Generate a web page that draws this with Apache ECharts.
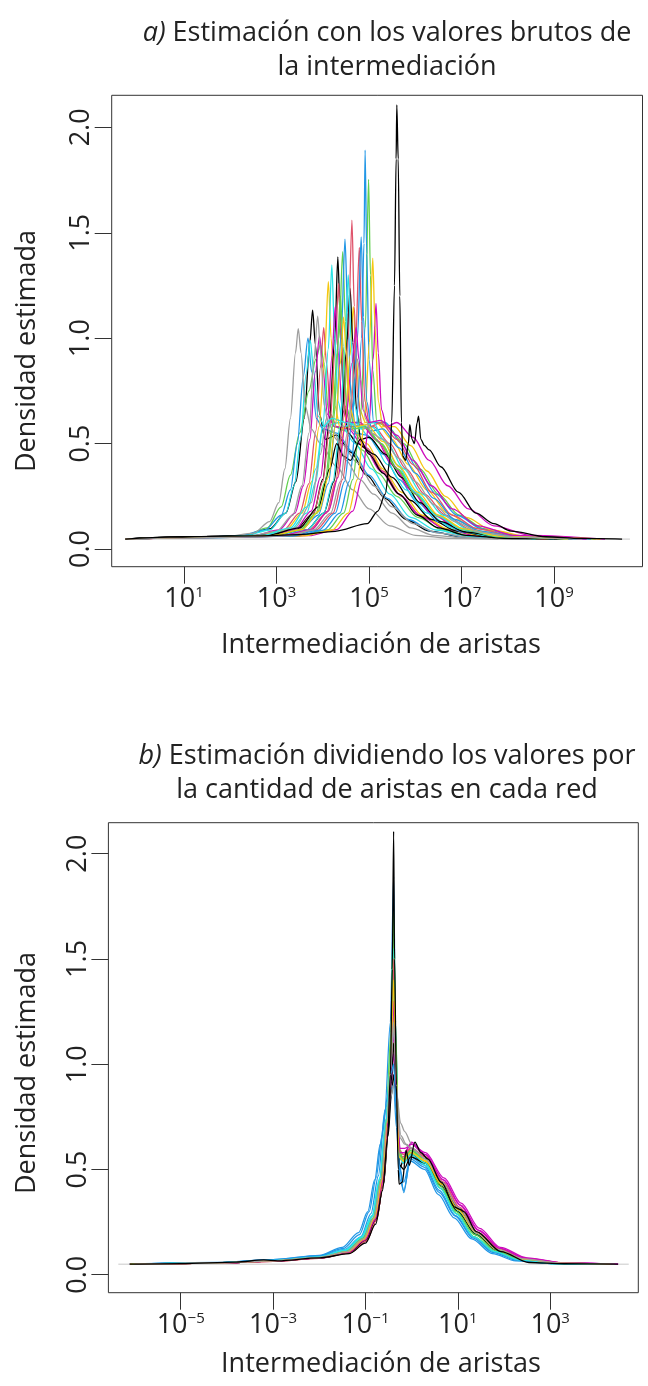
<!DOCTYPE html>
<html>
<head>
<meta charset="utf-8">
<script src="https://cdn.jsdelivr.net/npm/echarts@6/dist/echarts.min.js"></script>
<style>
  html, body { margin: 0; padding: 0; background: #fff; }
  #chart { width: 648px; height: 1386px; }
</style>
</head>
<body>
<div id="chart"></div>
<script>
// x de cada punto en log10 (eje logaritmico), y = densidad estimada
const ticksBrutos = [1, 3, 5, 7, 9];
const ticksNorm = [-5, -3, -1, 1, 3];
const ticksDens = [0, 0.5, 1, 1.5, 2];

const lineaBaseA = [[-0.27, 0.047], [10.64, 0.047]];
const lineaBaseB = [[-6.35, 0.05], [4.7, 0.05]];

// a) valores brutos de la intermediacion
const curvasBrutas = [
  [[-0.27,0.047],[0.9,0.056],[1.6,0.06],[2.3,0.065],[2.85,0.095],[3.2,0.17],[3.42,0.32],[3.6,0.62],[3.72,0.98],[3.78,1.133],[3.84,0.97],[3.93,0.64],[4.05,0.52],[4.3,0.54],[4.6,0.46],[4.95,0.35],[5.35,0.24],[5.8,0.14],[6.3,0.085],[7.0,0.058],[8.2,0.048],[9.2,0.047]],
  [[-0.27,0.047],[1.4,0.055],[2.6,0.063],[3.15,0.09],[3.5,0.17],[3.7,0.31],[3.85,0.56],[3.95,0.86],[4.02,1.05],[4.08,0.88],[4.17,0.64],[4.3,0.58],[4.6,0.57],[4.95,0.48],[5.3,0.37],[5.7,0.25],[6.15,0.15],[6.7,0.09],[7.5,0.058],[8.9,0.047]],
  [[-0.27,0.047],[1.4,0.055],[2.3,0.063],[2.8,0.1],[3.1,0.2],[3.3,0.35],[3.5,0.55],[3.7,0.75],[3.85,0.9],[3.95,0.97],[4.03,0.88],[4.12,0.66],[4.25,0.58],[4.5,0.56],[4.85,0.47],[5.2,0.36],[5.6,0.25],[6.05,0.15],[6.6,0.09],[7.3,0.058],[8.7,0.047]],
  [[-0.27,0.047],[1.2,0.055],[2.2,0.062],[2.75,0.09],[3.1,0.16],[3.3,0.28],[3.45,0.5],[3.58,0.82],[3.68,1.0],[3.76,0.84],[3.86,0.62],[4.0,0.57],[4.3,0.55],[4.65,0.46],[5.0,0.35],[5.4,0.24],[5.85,0.14],[6.4,0.08],[7.1,0.056],[8.4,0.047]],
  [[-0.27,0.047],[1.3,0.054],[2.3,0.062],[2.85,0.09],[3.2,0.17],[3.38,0.3],[3.52,0.52],[3.64,0.83],[3.73,0.99],[3.8,0.85],[3.9,0.63],[4.05,0.58],[4.35,0.6],[4.7,0.5],[5.05,0.38],[5.45,0.26],[5.9,0.15],[6.45,0.09],[7.2,0.058],[8.6,0.047]],
  [[-0.27,0.047],[1.5,0.055],[2.5,0.063],[3.05,0.09],[3.4,0.17],[3.58,0.3],[3.72,0.52],[3.84,0.84],[3.93,1.01],[4.0,0.86],[4.1,0.64],[4.25,0.58],[4.55,0.57],[4.9,0.48],[5.25,0.37],[5.65,0.26],[6.1,0.16],[6.65,0.095],[7.4,0.06],[8.8,0.047]],
  [[-0.27,0.047],[1.4,0.054],[2.6,0.062],[3.2,0.09],[3.55,0.17],[3.76,0.32],[3.92,0.58],[4.04,0.92],[4.12,1.268],[4.18,1.0],[4.26,0.68],[4.38,0.57],[4.6,0.58],[4.95,0.5],[5.3,0.38],[5.7,0.27],[6.15,0.16],[6.7,0.095],[7.5,0.06],[8.9,0.047]],
  [[-0.27,0.047],[1.2,0.054],[1.9,0.058],[2.5,0.075],[2.85,0.13],[3.05,0.22],[3.18,0.38],[3.3,0.62],[3.41,0.93],[3.47,1.045],[3.53,0.93],[3.62,0.68],[3.75,0.57],[3.95,0.5],[4.3,0.39],[4.65,0.28],[5.0,0.19],[5.45,0.11],[6.0,0.065],[6.8,0.05],[7.8,0.047]],
  [[-0.27,0.047],[1.0,0.057],[1.8,0.06],[2.8,0.066],[3.4,0.09],[3.8,0.17],[4.0,0.33],[4.14,0.6],[4.26,1.0],[4.325,1.386],[4.38,1.08],[4.45,0.7],[4.55,0.55],[4.75,0.5],[5.1,0.45],[5.5,0.34],[5.9,0.23],[6.35,0.14],[6.9,0.085],[7.7,0.056],[9.1,0.047]],
  [[-0.27,0.047],[1.6,0.055],[2.8,0.062],[3.45,0.09],[3.8,0.17],[4.0,0.32],[4.15,0.58],[4.27,0.95],[4.34,1.26],[4.4,1.0],[4.48,0.68],[4.6,0.58],[4.85,0.59],[5.2,0.51],[5.55,0.39],[5.95,0.27],[6.4,0.16],[6.95,0.095],[7.75,0.06],[9.2,0.047]],
  [[-0.27,0.047],[1.5,0.055],[2.9,0.062],[3.5,0.09],[3.88,0.17],[4.08,0.33],[4.23,0.6],[4.35,1.0],[4.43,1.41],[4.49,1.08],[4.56,0.7],[4.68,0.57],[4.92,0.58],[5.27,0.5],[5.62,0.38],[6.02,0.26],[6.47,0.16],[7.02,0.092],[7.8,0.058],[9.3,0.047]],
  [[-0.27,0.047],[1.3,0.054],[2.9,0.061],[3.5,0.085],[3.9,0.16],[4.12,0.31],[4.28,0.6],[4.4,1.02],[4.48,1.47],[4.54,1.12],[4.61,0.72],[4.72,0.55],[4.95,0.54],[5.3,0.45],[5.65,0.33],[6.05,0.22],[6.5,0.13],[7.05,0.08],[7.9,0.054],[9.3,0.047]],
  [[-0.27,0.047],[1.5,0.055],[2.7,0.062],[3.3,0.09],[3.65,0.17],[3.85,0.32],[4.0,0.58],[4.12,0.95],[4.195,1.347],[4.25,1.05],[4.33,0.7],[4.45,0.58],[4.7,0.6],[5.05,0.52],[5.4,0.4],[5.8,0.28],[6.25,0.17],[6.8,0.1],[7.6,0.06],[9.0,0.047]],
  [[-0.27,0.047],[1.6,0.055],[2.8,0.063],[3.4,0.092],[3.75,0.18],[3.95,0.34],[4.1,0.6],[4.2,0.92],[4.27,1.15],[4.33,0.94],[4.42,0.66],[4.55,0.6],[4.8,0.6],[5.15,0.52],[5.5,0.4],[5.9,0.28],[6.35,0.17],[6.9,0.1],[7.7,0.062],[9.2,0.047]],
  [[-0.27,0.047],[1.6,0.055],[3.1,0.063],[3.75,0.092],[4.12,0.18],[4.32,0.34],[4.48,0.6],[4.59,0.92],[4.66,1.15],[4.72,0.93],[4.8,0.66],[4.92,0.6],[5.15,0.6],[5.5,0.52],[5.85,0.4],[6.25,0.28],[6.7,0.17],[7.25,0.1],[8.05,0.062],[9.6,0.047]],
  [[-0.27,0.047],[1.3,0.054],[2.4,0.06],[3.0,0.085],[3.35,0.16],[3.55,0.3],[3.7,0.55],[3.81,0.9],[3.89,1.105],[3.95,0.94],[4.03,0.68],[4.15,0.55],[4.4,0.5],[4.75,0.41],[5.1,0.3],[5.5,0.2],[5.95,0.12],[6.5,0.075],[7.3,0.052],[8.5,0.047]],
  [[-0.27,0.047],[1.1,0.056],[2.0,0.058],[3.0,0.065],[3.65,0.09],[4.02,0.17],[4.24,0.32],[4.4,0.58],[4.51,0.94],[4.59,1.236],[4.65,0.98],[4.73,0.66],[4.82,0.52],[5.0,0.53],[5.35,0.45],[5.7,0.34],[6.1,0.22],[6.55,0.13],[7.1,0.08],[7.9,0.055],[9.4,0.047]],
  [[-0.27,0.047],[1.7,0.055],[3.1,0.062],[3.7,0.09],[4.08,0.17],[4.28,0.32],[4.44,0.6],[4.55,1.0],[4.63,1.56],[4.68,1.15],[4.75,0.72],[4.86,0.57],[5.1,0.58],[5.45,0.5],[5.8,0.38],[6.2,0.26],[6.65,0.16],[7.2,0.092],[8.0,0.058],[9.5,0.047]],
  [[-0.27,0.047],[1.6,0.055],[3.5,0.062],[4.1,0.09],[4.45,0.17],[4.65,0.33],[4.81,0.62],[4.92,1.05],[4.99,1.753],[5.03,1.3],[5.08,0.85],[5.17,0.6],[5.4,0.58],[5.75,0.5],[6.1,0.38],[6.5,0.26],[6.95,0.16],[7.5,0.095],[8.3,0.06],[9.9,0.047]],
  [[-0.27,0.047],[1.5,0.054],[3.4,0.061],[4.0,0.088],[4.37,0.17],[4.57,0.32],[4.73,0.6],[4.84,1.0],[4.89,1.45],[4.915,1.892],[4.95,1.4],[5.0,0.9],[5.1,0.6],[5.35,0.6],[5.7,0.5],[6.05,0.38],[6.45,0.26],[6.9,0.16],[7.45,0.095],[8.25,0.058],[9.8,0.047]],
  [[-0.27,0.047],[1.6,0.055],[3.0,0.062],[3.65,0.09],[4.02,0.17],[4.22,0.32],[4.37,0.58],[4.48,0.95],[4.55,1.3],[4.61,1.0],[4.69,0.68],[4.8,0.57],[5.05,0.58],[5.4,0.5],[5.75,0.38],[6.15,0.26],[6.6,0.16],[7.15,0.093],[7.95,0.058],[9.5,0.047]],
  [[-0.27,0.047],[1.8,0.055],[3.7,0.063],[4.3,0.092],[4.65,0.18],[4.85,0.34],[5.0,0.6],[5.09,0.9],[5.15,1.165],[5.2,0.93],[5.27,0.66],[5.38,0.58],[5.6,0.6],[5.95,0.53],[6.3,0.42],[6.7,0.3],[7.15,0.19],[7.7,0.11],[8.5,0.065],[10.1,0.047]],
  [[-0.27,0.047],[1.7,0.055],[3.6,0.062],[4.2,0.09],[4.55,0.17],[4.75,0.33],[4.9,0.6],[5.01,0.98],[5.08,1.379],[5.13,1.05],[5.2,0.7],[5.3,0.58],[5.55,0.58],[5.9,0.49],[6.25,0.37],[6.65,0.25],[7.1,0.15],[7.65,0.09],[8.45,0.057],[10.0,0.047]],
  [[-0.27,0.047],[1.5,0.054],[2.8,0.063],[3.4,0.1],[3.75,0.22],[3.95,0.45],[4.08,0.62],[4.25,0.55],[4.5,0.42],[4.8,0.33],[5.1,0.26],[5.5,0.17],[5.9,0.1],[6.4,0.065],[7.2,0.05],[8.4,0.047]],
  [[-0.27,0.047],[1.2,0.058],[2.8,0.065],[3.5,0.1],[3.9,0.2],[4.15,0.38],[4.3,0.5],[4.45,0.44],[4.6,0.42],[4.81,0.52],[5.0,0.45],[5.3,0.36],[5.65,0.26],[6.05,0.16],[6.5,0.1],[7.1,0.065],[8.0,0.05],[9.2,0.047]],
  [[-0.27,0.047],[1.7,0.055],[3.2,0.062],[3.85,0.09],[4.22,0.17],[4.43,0.33],[4.59,0.6],[4.71,0.98],[4.79,1.43],[4.84,1.08],[4.91,0.7],[5.02,0.58],[5.25,0.6],[5.6,0.52],[5.95,0.4],[6.35,0.27],[6.8,0.16],[7.35,0.095],[8.15,0.06],[9.7,0.047]],
  [[-0.27,0.047],[1.5,0.055],[2.9,0.062],[3.5,0.09],[3.85,0.17],[4.05,0.32],[4.2,0.58],[4.31,0.93],[4.38,1.2],[4.44,0.96],[4.52,0.67],[4.64,0.57],[4.9,0.58],[5.25,0.5],[5.6,0.38],[6.0,0.26],[6.45,0.16],[7.0,0.093],[7.8,0.058],[9.3,0.047]],
  [[-0.27,0.047],[1.4,0.054],[3.3,0.061],[3.9,0.088],[4.27,0.17],[4.47,0.32],[4.63,0.6],[4.75,1.0],[4.83,1.48],[4.88,1.1],[4.95,0.7],[5.06,0.56],[5.3,0.57],[5.65,0.48],[6.0,0.36],[6.4,0.24],[6.85,0.14],[7.4,0.085],[8.2,0.056],[9.7,0.047]],
  [[-0.27,0.047],[1.5,0.055],[2.7,0.065],[3.3,0.1],[3.65,0.2],[3.85,0.38],[4.0,0.58],[4.2,0.62],[4.5,0.6],[4.8,0.58],[5.1,0.6],[5.3,0.52],[5.6,0.4],[6.0,0.27],[6.45,0.16],[7.0,0.095],[7.8,0.06],[9.3,0.047]],
  [[-0.27,0.047],[1.6,0.055],[3.1,0.063],[3.75,0.092],[4.12,0.18],[4.33,0.34],[4.48,0.58],[4.63,0.88],[4.72,1.05],[4.78,0.9],[4.87,0.66],[5.0,0.6],[5.25,0.61],[5.6,0.54],[5.95,0.42],[6.35,0.3],[6.8,0.19],[7.35,0.11],[8.15,0.065],[9.7,0.047]],
  [[-0.27,0.047],[1.5,0.055],[2.9,0.063],[3.55,0.092],[3.92,0.18],[4.12,0.34],[4.27,0.58],[4.38,0.88],[4.45,1.1],[4.51,0.92],[4.6,0.66],[4.72,0.58],[4.95,0.59],[5.3,0.51],[5.65,0.39],[6.05,0.27],[6.5,0.16],[7.05,0.095],[7.85,0.06],[9.3,0.047]],
  [[-0.27,0.047],[1.6,0.054],[3.2,0.062],[3.8,0.09],[4.17,0.17],[4.38,0.32],[4.53,0.55],[4.66,0.8],[4.75,0.9],[4.82,0.8],[4.92,0.62],[5.05,0.55],[5.3,0.52],[5.65,0.43],[6.0,0.32],[6.4,0.21],[6.85,0.13],[7.4,0.08],[8.2,0.055],[9.6,0.047]],
  [[-0.27,0.047],[0.7,0.056],[1.5,0.06],[2.5,0.062],[3.5,0.068],[4.27,0.084],[4.96,0.12],[5.19,0.18],[5.35,0.26],[5.45,0.42],[5.49,0.6],[5.55,1.25],[5.585,1.85],[5.6,2.106],[5.63,1.85],[5.665,1.2],[5.7,0.6],[5.73,0.44],[5.79,0.42],[5.85,0.5],[5.88,0.59],[5.93,0.52],[5.98,0.5],[6.04,0.6],[6.07,0.63],[6.12,0.52],[6.2,0.49],[6.3,0.47],[6.55,0.39],[6.93,0.27],[7.31,0.17],[7.7,0.12],[8.07,0.085],[8.82,0.058],[9.58,0.05],[10.47,0.047]]
];

// b) valores divididos por la cantidad de aristas
const curvasNorm = [
  [[-6.1,0.05],[-4.2,0.056],[-3.0,0.068],[-2.0,0.082],[-1.38,0.11],[-1.03,0.17],[-0.8,0.27],[-0.64,0.45],[-0.53,0.72],[-0.45,1.0],[-0.39,1.39],[-0.34,0.95],[-0.27,0.5],[-0.18,0.54],[-0.02,0.58],[0.3,0.53],[0.65,0.42],[1.0,0.3],[1.4,0.19],[1.85,0.115],[2.4,0.072],[3.2,0.054],[4.4,0.05]],
  [[-6.0,0.05],[-4.2,0.055],[-3.0,0.064],[-2.0,0.079],[-1.35,0.105],[-1.0,0.16],[-0.78,0.26],[-0.62,0.44],[-0.52,0.7],[-0.45,0.98],[-0.39,1.23],[-0.34,0.9],[-0.27,0.55],[-0.18,0.56],[-0.02,0.6],[0.3,0.56],[0.67,0.44],[1.02,0.32],[1.42,0.2],[1.87,0.12],[2.42,0.075],[3.2,0.055],[4.3,0.05]],
  [[-6.05,0.05],[-4.2,0.056],[-3.0,0.066],[-2.0,0.081],[-1.4,0.11],[-1.05,0.17],[-0.82,0.27],[-0.66,0.45],[-0.54,0.72],[-0.45,1.1],[-0.39,1.65],[-0.35,1.15],[-0.28,0.6],[-0.18,0.55],[-0.02,0.59],[0.3,0.54],[0.64,0.42],[0.98,0.3],[1.38,0.19],[1.82,0.115],[2.35,0.072],[3.1,0.054],[4.3,0.05]],
  [[-6.1,0.05],[-4.2,0.057],[-3.0,0.07],[-2.0,0.088],[-1.45,0.12],[-1.1,0.18],[-0.88,0.29],[-0.72,0.47],[-0.58,0.78],[-0.46,1.2],[-0.39,1.89],[-0.35,1.2],[-0.28,0.55],[-0.17,0.39],[-0.03,0.56],[0.28,0.52],[0.6,0.4],[0.95,0.28],[1.33,0.18],[1.78,0.11],[2.3,0.07],[3.0,0.054],[4.2,0.05]],
  [[-6.0,0.05],[-4.2,0.056],[-3.0,0.067],[-2.0,0.084],[-1.42,0.115],[-1.07,0.175],[-0.84,0.28],[-0.68,0.46],[-0.55,0.74],[-0.45,1.08],[-0.39,1.55],[-0.34,1.05],[-0.27,0.56],[-0.18,0.55],[-0.02,0.6],[0.3,0.55],[0.63,0.43],[0.97,0.31],[1.36,0.2],[1.8,0.12],[2.35,0.074],[3.1,0.055],[4.3,0.05]],
  [[-6.1,0.05],[-4.2,0.055],[-3.0,0.065],[-2.0,0.08],[-1.37,0.108],[-1.02,0.165],[-0.8,0.26],[-0.64,0.44],[-0.53,0.7],[-0.45,0.95],[-0.39,1.15],[-0.33,0.85],[-0.26,0.58],[-0.15,0.58],[0.0,0.63],[0.3,0.57],[0.68,0.45],[1.05,0.33],[1.45,0.21],[1.9,0.125],[2.45,0.078],[3.3,0.056],[4.4,0.05]],
  [[-6.0,0.05],[-4.2,0.055],[-3.0,0.065],[-2.0,0.08],[-1.36,0.108],[-1.01,0.165],[-0.79,0.26],[-0.63,0.44],[-0.52,0.7],[-0.45,0.92],[-0.39,1.1],[-0.33,0.84],[-0.26,0.57],[-0.17,0.55],[-0.02,0.58],[0.3,0.54],[0.66,0.43],[1.01,0.31],[1.41,0.2],[1.86,0.12],[2.4,0.074],[3.2,0.055],[4.3,0.05]],
  [[-6.05,0.05],[-4.2,0.055],[-3.0,0.066],[-2.0,0.082],[-1.4,0.11],[-1.05,0.17],[-0.82,0.27],[-0.66,0.45],[-0.54,0.7],[-0.45,0.9],[-0.39,1.0],[-0.32,0.85],[-0.24,0.72],[-0.15,0.68],[0.0,0.62],[0.3,0.56],[0.65,0.43],[1.0,0.31],[1.4,0.2],[1.85,0.12],[2.4,0.074],[3.2,0.055],[4.4,0.05]],
  [[-6.1,0.05],[-4.2,0.055],[-3.0,0.065],[-2.0,0.08],[-1.34,0.105],[-0.99,0.16],[-0.77,0.26],[-0.61,0.43],[-0.51,0.66],[-0.44,0.85],[-0.39,0.95],[-0.33,0.78],[-0.26,0.56],[-0.17,0.54],[-0.02,0.57],[0.3,0.53],[0.64,0.42],[0.99,0.3],[1.39,0.19],[1.84,0.115],[2.4,0.072],[3.2,0.054],[4.3,0.05]],
  [[-6.0,0.05],[-4.2,0.055],[-3.0,0.064],[-2.0,0.078],[-1.33,0.104],[-0.98,0.16],[-0.76,0.26],[-0.61,0.44],[-0.51,0.7],[-0.44,1.0],[-0.39,1.3],[-0.34,0.92],[-0.27,0.56],[-0.18,0.56],[-0.02,0.6],[0.3,0.56],[0.68,0.44],[1.03,0.32],[1.43,0.2],[1.88,0.12],[2.45,0.075],[3.3,0.055],[4.4,0.05]],
  [[-6.1,0.05],[-4.2,0.056],[-3.0,0.067],[-2.0,0.083],[-1.41,0.112],[-1.06,0.172],[-0.83,0.27],[-0.67,0.45],[-0.55,0.73],[-0.45,1.05],[-0.39,1.45],[-0.34,1.0],[-0.27,0.57],[-0.18,0.55],[-0.02,0.59],[0.3,0.55],[0.63,0.42],[0.97,0.3],[1.37,0.19],[1.82,0.115],[2.37,0.072],[3.1,0.054],[4.3,0.05]],
  [[-6.1,0.05],[-4.2,0.058],[-3.0,0.072],[-2.0,0.092],[-1.5,0.13],[-1.15,0.2],[-0.95,0.3],[-0.8,0.45],[-0.68,0.62],[-0.55,0.8],[-0.45,0.88],[-0.39,0.9],[-0.33,0.7],[-0.25,0.45],[-0.17,0.4],[-0.03,0.54],[0.28,0.5],[0.58,0.38],[0.92,0.27],[1.3,0.17],[1.75,0.1],[2.25,0.066],[3.0,0.053],[4.1,0.05]],
  [[-6.0,0.05],[-4.2,0.056],[-3.0,0.068],[-2.0,0.086],[-1.44,0.118],[-1.09,0.18],[-0.86,0.28],[-0.7,0.45],[-0.57,0.7],[-0.46,0.98],[-0.39,1.2],[-0.33,0.88],[-0.26,0.56],[-0.17,0.53],[-0.02,0.57],[0.3,0.52],[0.62,0.41],[0.96,0.29],[1.35,0.18],[1.8,0.11],[2.33,0.07],[3.1,0.053],[4.2,0.05]],
  [[-6.1,0.05],[-4.2,0.055],[-3.0,0.065],[-2.0,0.08],[-1.36,0.107],[-1.01,0.165],[-0.79,0.26],[-0.63,0.44],[-0.52,0.68],[-0.45,0.9],[-0.39,1.05],[-0.33,0.82],[-0.25,0.6],[-0.15,0.6],[0.0,0.62],[0.3,0.58],[0.7,0.46],[1.07,0.34],[1.47,0.22],[1.92,0.13],[2.5,0.08],[3.3,0.056],[4.47,0.05]],
  [[-6.0,0.05],[-4.2,0.055],[-3.0,0.066],[-2.0,0.081],[-1.38,0.11],[-1.03,0.168],[-0.8,0.27],[-0.64,0.45],[-0.53,0.72],[-0.45,1.0],[-0.39,1.25],[-0.34,0.9],[-0.27,0.55],[-0.18,0.54],[-0.02,0.58],[0.3,0.54],[0.65,0.43],[1.0,0.31],[1.4,0.2],[1.85,0.12],[2.4,0.074],[3.2,0.055],[4.3,0.05]],
  [[-6.1,0.05],[-4.2,0.055],[-3.0,0.066],[-2.0,0.082],[-1.4,0.11],[-1.05,0.17],[-0.83,0.27],[-0.67,0.44],[-0.55,0.66],[-0.46,0.84],[-0.39,0.9],[-0.32,0.8],[-0.23,0.66],[-0.12,0.62],[0.02,0.6],[0.3,0.55],[0.65,0.43],[1.0,0.31],[1.4,0.2],[1.85,0.12],[2.4,0.074],[3.2,0.055],[4.4,0.05]],
  [[-6.05,0.05],[-4.2,0.055],[-3.0,0.065],[-2.0,0.079],[-1.34,0.104],[-0.99,0.16],[-0.77,0.26],[-0.61,0.43],[-0.51,0.68],[-0.44,0.92],[-0.39,1.1],[-0.33,0.82],[-0.26,0.52],[-0.17,0.5],[-0.02,0.56],[0.3,0.53],[0.66,0.43],[1.02,0.31],[1.42,0.2],[1.87,0.12],[2.43,0.074],[3.25,0.055],[4.4,0.05]],
  [[-6.1,0.05],[-4.2,0.055],[-3.0,0.064],[-2.0,0.078],[-1.33,0.104],[-0.98,0.16],[-0.76,0.26],[-0.61,0.44],[-0.51,0.72],[-0.44,1.05],[-0.39,1.5],[-0.35,1.05],[-0.28,0.6],[-0.18,0.57],[-0.02,0.6],[0.3,0.56],[0.68,0.44],[1.04,0.32],[1.44,0.2],[1.9,0.12],[2.45,0.075],[3.3,0.055],[4.4,0.05]],
  [[-6.0,0.05],[-4.2,0.056],[-3.0,0.067],[-2.0,0.083],[-1.41,0.112],[-1.06,0.172],[-0.83,0.27],[-0.67,0.45],[-0.55,0.74],[-0.45,1.15],[-0.39,1.75],[-0.35,1.2],[-0.28,0.6],[-0.18,0.54],[-0.02,0.58],[0.3,0.53],[0.63,0.41],[0.97,0.29],[1.36,0.18],[1.8,0.11],[2.33,0.07],[3.1,0.053],[4.2,0.05]],
  [[-6.1,0.05],[-4.2,0.057],[-3.0,0.071],[-2.0,0.09],[-1.48,0.125],[-1.13,0.19],[-0.92,0.3],[-0.77,0.46],[-0.64,0.66],[-0.52,0.85],[-0.44,0.96],[-0.39,1.0],[-0.33,0.78],[-0.26,0.5],[-0.17,0.44],[-0.03,0.55],[0.28,0.51],[0.6,0.39],[0.94,0.28],[1.32,0.175],[1.77,0.105],[2.28,0.068],[3.0,0.053],[4.1,0.05]],
  [[-6.05,0.05],[-4.2,0.056],[-3.0,0.068],[-2.0,0.085],[-1.43,0.116],[-1.08,0.178],[-0.85,0.28],[-0.69,0.46],[-0.56,0.73],[-0.45,1.02],[-0.39,1.35],[-0.34,0.95],[-0.27,0.56],[-0.18,0.53],[-0.02,0.58],[0.3,0.53],[0.62,0.41],[0.96,0.29],[1.35,0.18],[1.8,0.11],[2.33,0.07],[3.1,0.053],[4.2,0.05]],
  [[-6.0,0.05],[-4.2,0.055],[-3.0,0.065],[-2.0,0.08],[-1.37,0.107],[-1.02,0.165],[-0.8,0.26],[-0.64,0.44],[-0.53,0.7],[-0.45,0.98],[-0.39,1.3],[-0.34,0.92],[-0.26,0.58],[-0.16,0.58],[-0.01,0.62],[0.3,0.57],[0.69,0.45],[1.06,0.33],[1.46,0.21],[1.91,0.125],[2.48,0.078],[3.3,0.056],[4.47,0.05]],
  [[-6.1,0.05],[-4.2,0.055],[-3.0,0.066],[-2.0,0.081],[-1.38,0.11],[-1.03,0.168],[-0.8,0.27],[-0.64,0.45],[-0.53,0.72],[-0.45,1.02],[-0.39,1.4],[-0.34,0.98],[-0.27,0.56],[-0.18,0.54],[-0.02,0.58],[0.3,0.54],[0.65,0.43],[1.0,0.31],[1.4,0.2],[1.85,0.12],[2.4,0.074],[3.2,0.055],[4.3,0.05]],
  [[-6.0,0.05],[-4.2,0.055],[-3.0,0.066],[-2.0,0.082],[-1.4,0.11],[-1.05,0.17],[-0.82,0.27],[-0.66,0.45],[-0.54,0.72],[-0.45,0.98],[-0.39,1.2],[-0.33,0.9],[-0.25,0.65],[-0.15,0.62],[0.0,0.6],[0.3,0.55],[0.66,0.44],[1.01,0.32],[1.41,0.2],[1.86,0.12],[2.42,0.075],[3.2,0.055],[4.4,0.05]],
  [[-6.1,0.05],[-5.0,0.053],[-3.8,0.06],[-3.2,0.07],[-2.9,0.066],[-2.0,0.08],[-1.35,0.1],[-1.0,0.15],[-0.78,0.24],[-0.63,0.4],[-0.52,0.65],[-0.46,0.95],[-0.42,1.45],[-0.39,2.106],[-0.37,1.5],[-0.33,0.9],[-0.29,0.5],[-0.27,0.43],[-0.2,0.44],[-0.12,0.59],[-0.05,0.52],[0.07,0.63],[0.2,0.58],[0.35,0.55],[0.64,0.44],[0.94,0.32],[1.05,0.31],[1.13,0.3],[1.4,0.205],[1.93,0.11],[2.54,0.058],[3.3,0.052],[4.47,0.05]]
];

// paleta por defecto de R (matplot la recorre en ciclo)
const paleta = ['#000000', '#DF536B', '#61D04F', '#2297E6', '#28E2E5', '#CD0BBC', '#F5C710', '#9E9E9E'];
const fuente = 'Open Sans';
const tinta = '#222';
const tam = 27;

function potencia(v) {
  const e = v < 0 ? '\u2212' + (-v) : String(v);
  return '{b|10}{s|' + e + '}';
}

function ejeX(idx, min, max, ticks) {
  return {
    type: 'value', gridIndex: idx, min: min, max: max,
    axisLine: { show: false, onZero: false },
    splitLine: { show: false },
    axisTick: { show: true, length: 17, customValues: ticks, lineStyle: { color: '#333', width: 1 } },
    axisLabel: {
      customValues: ticks, margin: 19, formatter: potencia,
      rich: {
        b: { fontFamily: fuente, fontSize: tam, color: tinta },
        s: { fontFamily: fuente, fontSize: 15, color: tinta, verticalAlign: 'top' }
      }
    }
  };
}

function ejeY(idx, min, max) {
  return {
    type: 'value', gridIndex: idx, min: min, max: max,
    axisLine: { show: false, onZero: false },
    splitLine: { show: false },
    axisTick: { show: true, length: 17, customValues: ticksDens, lineStyle: { color: '#333', width: 1 } },
    axisLabel: {
      customValues: ticksDens, rotate: 90, margin: 17,
      fontFamily: fuente, fontSize: tam, color: tinta,
      formatter: v => v.toFixed(1)
    }
  };
}

function capas(curvas, idx, base) {
  const out = [{
    type: 'line', xAxisIndex: idx, yAxisIndex: idx, data: base,
    showSymbol: false, silent: true, z: 1,
    lineStyle: { color: '#c8c8c8', width: 1 }
  }];
  curvas.forEach((c, i) => {
    out.push({
      type: 'line', xAxisIndex: idx, yAxisIndex: idx, data: c,
      showSymbol: false, silent: true, z: 2,
      smooth: 0.3, smoothMonotone: 'x',
      lineStyle: { color: paleta[i % paleta.length], width: 1.3 }
    });
  });
  return out;
}

function titulo(texto, top) {
  return {
    text: texto, left: 387, top: top, textAlign: 'center', padding: 0,
    textStyle: {
      fontFamily: fuente, fontSize: tam, fontWeight: 'normal', color: tinta, lineHeight: 34,
      rich: {
        i: { fontFamily: fuente, fontSize: tam, fontStyle: 'italic', color: tinta, lineHeight: 34 },
        n: { fontFamily: fuente, fontSize: tam, color: tinta, lineHeight: 34 }
      }
    }
  };
}

function rotulo(texto, x, y, rot) {
  return {
    type: 'text', x: x, y: y, rotation: rot, silent: true,
    style: {
      text: texto, fill: tinta, font: tam + 'px ' + fuente,
      align: 'center', verticalAlign: 'middle', textAlign: 'center', textVerticalAlign: 'middle'
    }
  };
}

const chart = echarts.init(document.getElementById('chart'));
chart.setOption({
  animation: false,
  backgroundColor: '#fff',
  title: [
    titulo('{i|a)}{n| Estimación con los valores brutos de}\n{n|la intermediación}', 16),
    titulo('{i|b)}{n| Estimación dividiendo los valores por}\n{n|la cantidad de aristas en cada red}', 739)
  ],
  grid: [
    { left: 111.7, top: 95.3, width: 530.8, height: 471.4, show: true, borderColor: '#333', borderWidth: 1, backgroundColor: 'transparent' },
    { left: 108.4, top: 822.7, width: 529.9, height: 470, show: true, borderColor: '#333', borderWidth: 1, backgroundColor: 'transparent' }
  ],
  xAxis: [ejeX(0, -0.563, 10.911, ticksBrutos), ejeX(1, -6.565, 4.907, ticksNorm)],
  yAxis: [ejeY(0, -0.084, 2.152), ejeY(1, -0.0855, 2.147)],
  graphic: [
    rotulo('Intermediación de aristas', 381, 645, 0),
    rotulo('Intermediación de aristas', 381, 1364, 0),
    rotulo('Densidad estimada', 27, 351, Math.PI / 2),
    rotulo('Densidad estimada', 27, 1073, Math.PI / 2)
  ],
  series: capas(curvasBrutas, 0, lineaBaseA).concat(capas(curvasNorm, 1, lineaBaseB))
});
window.addEventListener('resize', function () { chart.resize(); });
</script>
</body>
</html>
